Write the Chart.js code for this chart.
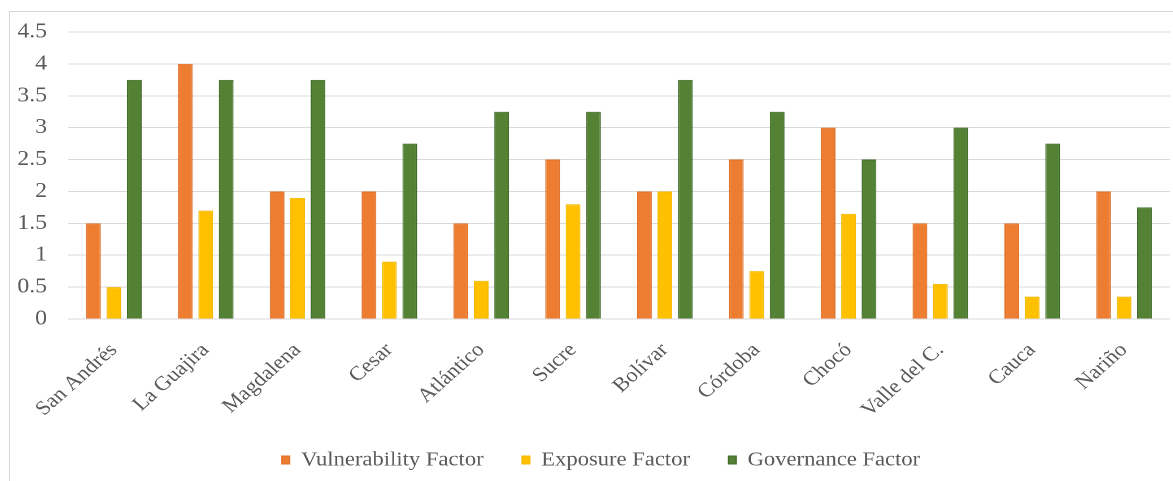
<!DOCTYPE html>
<html>
<head>
<meta charset="utf-8">
<script src="https://cdn.jsdelivr.net/npm/chart.js@4/dist/chart.umd.min.js"></script>
<style>
  html, body { margin: 0; padding: 0; background: #ffffff; }
  body { width: 1173px; height: 481px; position: relative; overflow: hidden; }
  #frame {
    position: absolute; left: 9px; top: 11px; width: 1170px; height: 480px;
    border-left: 1px solid #d6d6d6; border-top: 1px solid #d6d6d6;
  }
  #chart {
    position: absolute; left: 10px; top: 12px;
    transform: scaleX(1.13); transform-origin: 0 0;
  }
</style>
</head>
<body>
<div id="frame"></div>
<canvas id="chart" width="1029" height="469"></canvas>
<script>
const categories = ['San Andrés', 'La Guajira', 'Magdalena', 'Cesar', 'Atlántico', 'Sucre',
                    'Bolívar', 'Córdoba', 'Chocó', 'Valle del C.', 'Cauca', 'Nariño'];
const vulnerability = [1.5, 4, 2, 2, 1.5, 2.5, 2, 2.5, 3, 1.5, 1.5, 2];
const exposure = [0.5, 1.7, 1.9, 0.9, 0.6, 1.8, 2, 0.75, 1.65, 0.55, 0.35, 0.35];
const governance = [3.75, 3.75, 3.75, 2.75, 3.25, 3.25, 3.75, 3.25, 2.5, 3, 2.75, 1.75];
const seriesNames = ['Vulnerability Factor', 'Exposure Factor', 'Governance Factor'];
const yTicks = [0, 0.5, 1, 1.5, 2, 2.5, 3, 3.5, 4, 4.5];

const textColor = '#595959';
const serif = '"Liberation Serif", "Times New Roman", serif';

function barSet(label, data, fill, edge) {
  return {
    label, data,
    backgroundColor: fill,
    borderColor: edge,
    borderWidth: 1,
    categoryPercentage: 0.668,
    barPercentage: 0.72
  };
}

// Nudge the legend row a little to the right of the canvas centre.
const legendShift = {
  id: 'legendShift',
  afterLayout(chart) {
    if (chart.legend) {
      chart.legend.left += 9.75;
      chart.legend.right += 9.75;
    }
  }
};

new Chart(document.getElementById('chart'), {
  type: 'bar',
  data: {
    labels: categories,
    datasets: [
      barSet(seriesNames[0], vulnerability, '#ED7D31', '#e07028'),
      barSet(seriesNames[1], exposure, '#FFC000', '#f5b800'),
      barSet(seriesNames[2], governance, '#548235', '#3f6a27')
    ]
  },
  plugins: [legendShift],
  options: {
    responsive: false,
    animation: false,
    devicePixelRatio: 2,
    layout: { padding: { left: 0, right: 2.5, top: 20, bottom: 1 } },
    plugins: {
      tooltip: { enabled: false },
      legend: {
        position: 'bottom',
        labels: {
          boxWidth: 7,
          boxHeight: 8,
          padding: 34,
          color: textColor,
          font: { family: serif, size: 20 }
        }
      }
    },
    scales: {
      x: {
        grid: { display: false, drawTicks: false },
        border: { display: false },
        ticks: {
          autoSkip: false,
          maxRotation: 45,
          minRotation: 45,
          padding: 19.5,
          color: textColor,
          font: { family: serif, size: 20 }
        },
        afterFit: (scale) => {
          scale.height = 97;
          scale.paddingLeft = 0;
          scale.paddingRight = 0;
        }
      },
      y: {
        min: 0,
        max: 4.5,
        afterBuildTicks: (scale) => { scale.ticks = yTicks.map(v => ({ value: v })); },
        grid: { color: '#d9d9d9', lineWidth: 1, drawTicks: false },
        border: { display: false },
        ticks: {
          padding: 18.6,
          color: textColor,
          font: { family: serif, size: 21 },
          callback: (v) => String(v)
        },
        afterFit: (scale) => {
          scale.width = 51.3;
          scale.paddingTop = 0;
          scale.paddingBottom = 0;
        }
      }
    }
  }
});
</script>
</body>
</html>
